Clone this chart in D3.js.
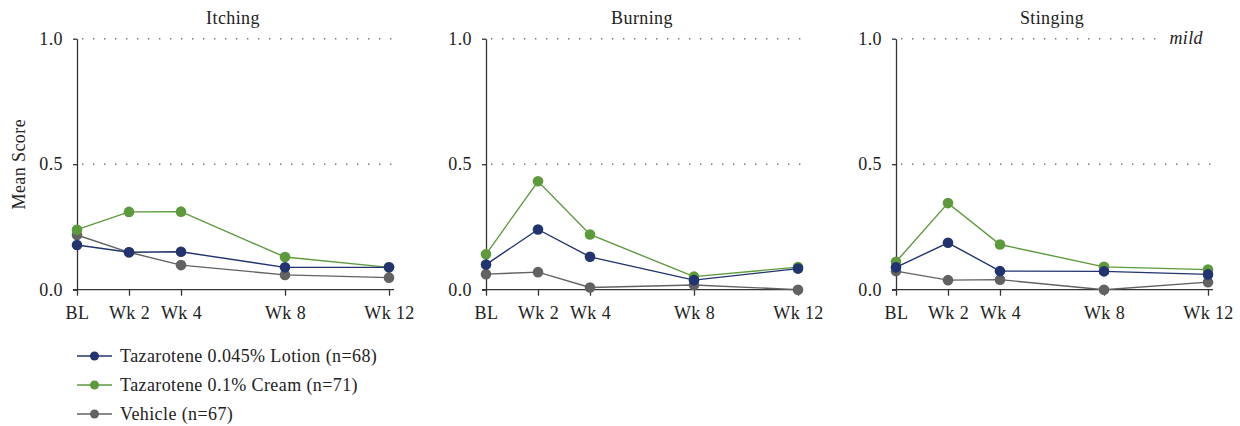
<!DOCTYPE html>
<meta charset="utf-8">
<style>
body { margin: 0; background: #fff; }
text { font-family: "Liberation Serif", "Times New Roman", serif; fill: #222; letter-spacing: 0.4px; }
.axis path, .axis line { stroke: #333; stroke-width: 1.3px; }
.axis text { font-size: 18px; fill: #222; font-family: "Liberation Serif", serif; }
.grid { stroke: #777; stroke-width: 1.4px; stroke-dasharray: 1.4, 9.6; }
.title { font-size: 18px; }
.legend text { font-size: 18px; }
</style>
<body>
<script src="https://d3js.org/d3.v7.min.js"></script>
<script>

    // weeks on the x axis and their labels
    var weeks = [0, 2, 4, 8, 12];
    var weekLabels = ["BL", "Wk 2", "Wk 4", "Wk 8", "Wk 12"];
    var panelTitles = ["Itching", "Burning", "Stinging"];
    var yTicks = [0, 0.5, 1.0];

    var seriesNames = ["Tazarotene 0.045% Lotion (n=68)", "Tazarotene 0.1% Cream (n=71)", "Vehicle (n=67)"];
    var seriesColors = ["#22346f", "#5c9a3c", "#626262"];

    // mean score per panel (Itching, Burning, Stinging), one row per series
    var lotionValues = [
        [0.178, 0.149, 0.151, 0.089, 0.089],
        [0.100, 0.240, 0.131, 0.038, 0.084],
        [0.089, 0.187, 0.074, 0.073, 0.061]
    ];
    var creamValues = [
        [0.239, 0.310, 0.311, 0.130, 0.089],
        [0.141, 0.432, 0.220, 0.052, 0.090],
        [0.111, 0.345, 0.180, 0.091, 0.080]
    ];
    var vehicleValues = [
        [0.218, 0.149, 0.098, 0.059, 0.048],
        [0.062, 0.070, 0.009, 0.019, 0.000],
        [0.074, 0.038, 0.040, 0.000, 0.030]
    ];
    var allValues = [lotionValues, creamValues, vehicleValues];

    var panelLeft = [77, 486, 896];
    var plotTop = 38.7, plotHeight = 251, plotWidth = 312, axisExtra = 5;

    var svg = d3.select("body").append("svg")
            .attr("width", 1240)
            .attr("height", 426);

    var x = d3.scaleLinear().domain([0, 12]).range([0, plotWidth]);
    var y = d3.scaleLinear().domain([0, 1]).range([plotHeight, 0]);

    panelTitles.forEach(function(title, p) {
        var g = svg.append("g")
                .attr("transform", "translate(" + panelLeft[p] + "," + plotTop + ")");

        // dotted reference lines
        g.selectAll(".grid")
                .data([0.5, 1.0])
                .enter().append("line")
                .attr("class", "grid")
                .attr("x1", 5)
                .attr("x2", plotWidth + axisExtra + 1)
                .attr("y1", function(d) { return y(d); })
                .attr("y2", function(d) { return y(d); });

        if (p === 2) {
            g.append("rect")
                    .attr("x", plotWidth - 46)
                    .attr("y", y(1) - 8)
                    .attr("width", 60)
                    .attr("height", 16)
                    .attr("fill", "#fff");
            g.append("text")
                    .attr("x", plotWidth - 5)
                    .attr("y", y(1) + 5)
                    .attr("text-anchor", "end")
                    .style("font-size", "18px")
                    .style("font-style", "italic")
                    .text("mild");
        }

        // axes
        g.append("g")
                .attr("class", "axis")
                .attr("transform", "translate(0," + plotHeight + ")")
                .call(d3.axisBottom(x).tickValues(weeks)
                        .tickFormat(function(d, i) { return weekLabels[i]; })
                        .tickSize(6).tickSizeOuter(0).tickPadding(11))
                .select(".domain")
                .attr("d", "M-4,0H" + (plotWidth + axisExtra));

        g.append("g")
                .attr("class", "axis")
                .call(d3.axisLeft(y).tickValues(yTicks).tickFormat(d3.format(".1f"))
                        .tickSize(4).tickSizeOuter(0).tickPadding(10));

        g.append("text")
                .attr("class", "title")
                .attr("x", (x(0) + x(12)) / 2)
                .attr("y", 23.5 - plotTop)
                .attr("text-anchor", "middle")
                .text(title);

        // series: vehicle under cream under lotion
        var line = d3.line()
                .x(function(d, i) { return x(weeks[i]); })
                .y(function(d) { return y(d); });

        [2, 1, 0].forEach(function(s) {
            var vals = allValues[s][p];
            g.append("path")
                    .attr("d", line(vals))
                    .attr("fill", "none")
                    .attr("stroke", seriesColors[s])
                    .attr("stroke-width", 1.4);
            g.selectAll(null)
                    .data(vals)
                    .enter().append("circle")
                    .attr("cx", function(d, i) { return x(weeks[i]); })
                    .attr("cy", function(d) { return y(d); })
                    .attr("r", 5.3)
                    .attr("fill", seriesColors[s]);
        });
    });

    // y axis label
    svg.append("text")
            .attr("transform", "translate(24.5," + (plotTop + y(0.5)) + ") rotate(-90)")
            .attr("text-anchor", "middle")
            .style("font-size", "18px")
            .text("Mean Score");

    // legend
    var legend = svg.append("g").attr("class", "legend");
    var item = legend.selectAll("g")
            .data(seriesNames)
            .enter().append("g")
            .attr("transform", function(d, i) { return "translate(77," + (356 + i * 29) + ")"; });
    item.append("line")
            .attr("x1", 0).attr("x2", 35)
            .attr("stroke", function(d, i) { return seriesColors[i]; })
            .attr("stroke-width", 1.4);
    item.append("circle")
            .attr("cx", 17.5).attr("r", 4.5)
            .attr("fill", function(d, i) { return seriesColors[i]; });
    item.append("text")
            .attr("x", 43)
            .attr("y", 6)
            .text(function(d) { return d; });

</script>
</body>
